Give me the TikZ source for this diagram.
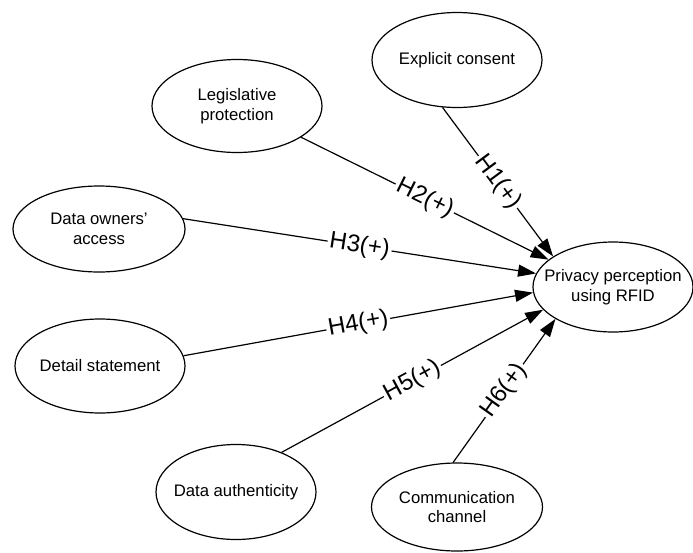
\documentclass[tikz,border=0pt]{standalone}
\usepackage{fontspec}
\setmainfont{Liberation Sans}
\usetikzlibrary{shapes.geometric,arrows.meta}
\begin{document}
\begin{tikzpicture}[x=1pt,y=-1pt,
 ell/.style={draw, ellipse, line width=1.2pt, inner sep=0pt},
 etxt/.style={align=center, font=\fontsize{16.7}{19.5}\selectfont},
 conn/.style={line width=1.2pt, -{Triangle[length=18pt,width=12pt]}},
 hyp/.style={sloped, fill=white, inner sep=2pt, font=\fontsize{24}{24}\selectfont}]
\useasboundingbox (0,0) rectangle (693,552);
\node[ell, minimum width=170pt, minimum height=95pt, label={[etxt]center:Explicit consent}] (ec) at (457,60) {};
\node[ell, minimum width=170pt, minimum height=93pt, label={[etxt]center:{Legislative\\protection}}] (lp) at (237,106) {};
\node[ell, minimum width=172pt, minimum height=86pt, label={[etxt]center:{Data owners'\\access}}] (doa) at (99,229) {};
\node[ell, minimum width=170pt, minimum height=94pt, label={[etxt]center:Detail statement}] (ds) at (100,366) {};
\node[ell, minimum width=160pt, minimum height=95pt, label={[etxt]center:Data authenticity}] (da) at (236,492) {};
\node[ell, minimum width=171pt, minimum height=88pt, label={[etxt]center:{Communication\\channel}}] (cc) at (457,507) {};
\node[ell, minimum width=160pt, minimum height=90pt, label={[etxt]center:{Privacy perception\\using RFID}}] (pp) at (613,287) {};
\draw[conn] (ec.253) -- node[hyp]{H1(+)} (pp.153);
\draw[conn] (lp.334.5) -- node[hyp]{H2(+)} (pp.157.7);
\draw[conn] (doa.7.3) -- node[hyp]{H3(+)} (pp.170);
\draw[conn] (ds.7.4) -- node[hyp]{H4(+)} (pp.184);
\draw[conn] (da.41) -- node[hyp]{H5(+)} (pp.198);
\draw[conn] (cc.95) -- node[hyp]{H6(+)} (pp.209);
\end{tikzpicture}
\end{document}
